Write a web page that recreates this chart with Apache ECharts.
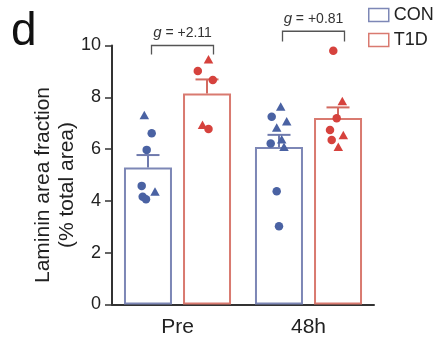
<!DOCTYPE html>
<html><head><meta charset="utf-8">
<script src="https://cdn.jsdelivr.net/npm/echarts@6/dist/echarts.min.js"></script>
<style>html,body{margin:0;padding:0;background:#fff}#c{width:436px;height:341px}</style>
</head><body><div id="c"></div>
<script>
// ---- data ----
const categories = ['Pre', '48h'];
const seriesNames = ['CON', 'T1D'];
const yTicks = [0, 2, 4, 6, 8, 10];
const conMean = [5.29, 6.08];
const t1dMean = [8.15, 7.20];
const conErrTop = [5.77, 6.55];
const t1dErrTop = [8.69, 7.61];

const conPreVals = [7.32, 6.61, 5.97, 4.58, 4.36, 4.16, 4.06];
const conPreShape = ['triangle', 'circle', 'circle', 'circle', 'triangle', 'circle', 'circle'];
const con48Vals = [7.64, 7.25, 7.08, 6.83, 6.38, 6.22, 6.09, 4.37, 3.02];
const con48Shape = ['triangle', 'circle', 'triangle', 'triangle', 'triangle', 'circle', 'triangle', 'circle', 'circle'];
const t1dPreVals = [9.47, 9.02, 8.67, 6.94, 6.78];
const t1dPreShape = ['triangle', 'circle', 'circle', 'triangle', 'circle'];
const t1d48Vals = [9.80, 7.86, 7.19, 6.74, 6.54, 6.35, 6.09];
const t1d48Shape = ['circle', 'triangle', 'circle', 'circle', 'triangle', 'circle', 'triangle'];

const hedgesG = ['+2.11', '+0.81'];
const bracketTop = [10.0, 10.55];
const bracketLeg = [9.65, 10.15];
const yTitle = 'Laminin area fraction\n(% total area)';

// ---- presentation (jitter in px, styles) ----
const conPreJitter = [-3.7, 3.7, -1.3, -6.3, 7, -5.3, -2];
const con48Jitter = [1.7, -7.3, 7.7, -2.3, 2.7, -8.3, 5, -2.3, 0];
const t1dPreJitter = [1.5, -9.2, 5.8, -4.5, 1.5];
const t1d48Jitter = [-4.7, 4.3, -1.3, -8, 5.3, -6.3, 0.3];

const FONT = 'Liberation Sans, Arial, Helvetica, sans-serif';
const conBorder = '#7d87b6';
const t1dBorder = '#d97a70';
const conPoint = '#4a62a3';
const t1dPoint = '#d6423d';
const BAR_W = 48, BAR_OFF = 29.5;

function pts(vals, shapes, jit, cat, off) {
  return vals.map((v, k) => ({
    value: [cat, v],
    symbol: shapes[k],
    symbolSize: shapes[k] === 'triangle' ? [9.5, 8.5] : 8.5,
    symbolOffset: [off + jit[k], 0]
  }));
}

function errRender(offset, color) {
  return function (params, api) {
    const i = api.value(0);
    const m = api.coord([i, api.value(1)]);
    const t = api.coord([i, api.value(2)]);
    const x = m[0] + offset;
    return {
      type: 'group', children: [
        { type: 'line', shape: { x1: x, y1: m[1], x2: x, y2: t[1] }, style: { stroke: color, lineWidth: 2 } },
        { type: 'line', shape: { x1: x - 11.5, y1: t[1], x2: x + 11.5, y2: t[1] }, style: { stroke: color, lineWidth: 2 } }
      ]
    };
  };
}

const chart = echarts.init(document.getElementById('c'), null, { renderer: 'canvas' });
chart.setOption({
  animation: false,
  backgroundColor: '#fff',
  textStyle: { fontFamily: FONT },
  grid: { left: 112, right: 62, top: 45.5, bottom: 36.5 },
  legend: {
    orient: 'vertical', left: 368, top: 6, padding: 0,
    itemWidth: 20, itemHeight: 13, itemGap: 7,
    data: [{ name: 'CON', icon: 'rect' }, { name: 'T1D', icon: 'rect' }],
    itemStyle: { borderWidth: 1.5 },
    textStyle: { fontSize: 18, color: '#222', fontFamily: FONT }
  },
  xAxis: {
    type: 'category', data: categories,
    axisLine: { lineStyle: { color: '#333', width: 2 } },
    axisTick: { show: false },
    axisLabel: { fontSize: 21, color: '#222', margin: 12, fontFamily: FONT }
  },
  yAxis: {
    type: 'value', min: 0, max: 10, interval: 2,
    splitLine: { show: false },
    axisLine: { show: true, lineStyle: { color: '#333', width: 2 } },
    axisTick: { show: true, length: 7, lineStyle: { color: '#333', width: 1.5 } },
    axisLabel: { fontSize: 18, color: '#222', margin: 11, fontFamily: FONT,
      formatter: v => yTicks.includes(v) ? String(v) : '' }
  },
  graphic: [
    { type: 'text', left: 11, top: 9, style: { text: 'd', font: '46px ' + FONT, fill: '#111' } },
    { type: 'text', x: 55, y: 185, rotation: Math.PI / 2,
      style: { text: yTitle, font: '21px ' + FONT, fill: '#222', lineHeight: 24,
        align: 'center', verticalAlign: 'middle' } }
  ],
  series: [
    { name: 'CON', type: 'bar', data: conMean, barWidth: BAR_W, barGap: '23%', z: 1,
      itemStyle: { color: '#fff', borderColor: conBorder, borderWidth: 2 } },
    { name: 'T1D', type: 'bar', data: t1dMean, barWidth: BAR_W, barGap: '23%', z: 1,
      itemStyle: { color: '#fff', borderColor: t1dBorder, borderWidth: 2 } },
    { type: 'custom', z: 3, renderItem: errRender(-BAR_OFF, '#6f7aad'),
      data: categories.map((c, i) => [i, conMean[i], conErrTop[i]]) },
    { type: 'custom', z: 3, renderItem: errRender(BAR_OFF, '#d26a60'),
      data: categories.map((c, i) => [i, t1dMean[i], t1dErrTop[i]]) },
    { type: 'scatter', z: 5, itemStyle: { color: conPoint, opacity: 1 },
      data: pts(conPreVals, conPreShape, conPreJitter, 0, -BAR_OFF)
        .concat(pts(con48Vals, con48Shape, con48Jitter, 1, -BAR_OFF)) },
    { type: 'scatter', z: 5, itemStyle: { color: t1dPoint, opacity: 1 },
      data: pts(t1dPreVals, t1dPreShape, t1dPreJitter, 0, BAR_OFF)
        .concat(pts(t1d48Vals, t1d48Shape, t1d48Jitter, 1, BAR_OFF)) },
    { type: 'custom', z: 4, clip: false,
      data: categories.map((c, i) => [i, bracketTop[i], bracketLeg[i], hedgesG[i]]),
      renderItem: function (params, api) {
        const i = api.value(0);
        const t = api.coord([i, api.value(1)]);
        const l = api.coord([i, api.value(2)]);
        const x0 = t[0] - 26, x1 = t[0] + 36;
        return { type: 'group', children: [
          { type: 'polyline', shape: { points: [[x0, l[1]], [x0, t[1]], [x1, t[1]], [x1, l[1]]] },
            style: { stroke: '#555', lineWidth: 1.3, fill: null } },
          { type: 'text', x: (x0 + x1) / 2, y: t[1] - 5,
            style: { text: '{i|g} = ' + hedgesG[params.dataIndex], align: 'center', verticalAlign: 'bottom',
              font: '14px ' + FONT, fill: '#333',
              rich: { i: { fontStyle: 'italic', fontSize: 15, fontFamily: FONT, fill: '#333', color: '#333' } } } }
        ] };
      }
    }
  ]
});
</script></body></html>
